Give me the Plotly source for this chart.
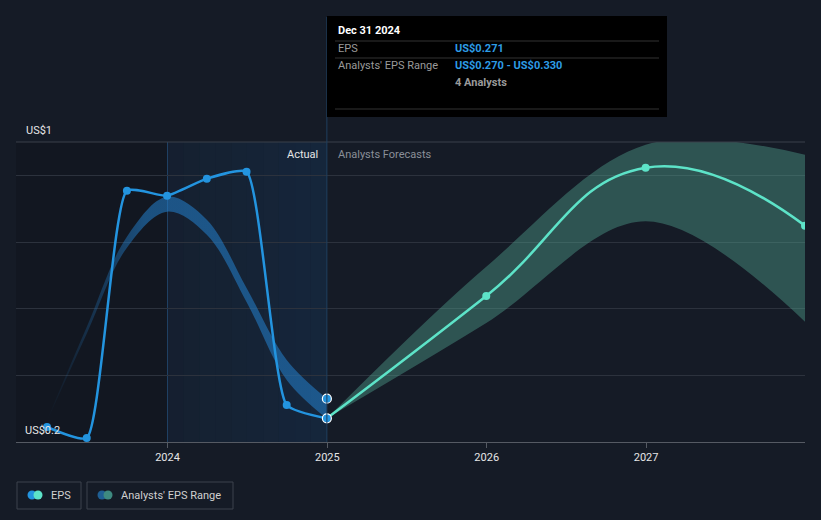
"""EPS history and analyst forecast chart (dark theme)."""

import datetime as dt

import plotly.graph_objects as go

# Reported EPS (trailing), quarterly
eps_dates = ["2023-03-31", "2023-06-30", "2023-09-30", "2023-12-31",
             "2024-03-31", "2024-06-30", "2024-09-30", "2024-12-31"]
eps_values = [0.245, 0.212, 0.954, 0.939, 0.990, 1.011, 0.311, 0.271]

# Past analyst EPS range, quarterly
past_range_dates = eps_dates
past_range_low = [0.262, 0.525, 0.783, 0.891, 0.822, 0.620, 0.386, 0.270]
past_range_high = [0.266, 0.545, 0.816, 0.936, 0.867, 0.662, 0.446, 0.330]

# Analyst forecasts
fc_dates = ["2024-12-31", "2025-12-31", "2026-12-31", "2027-12-31"]
fc_values = [0.271, 0.638, 1.023, 0.849]
fc_low = [0.271, 0.557, 0.862, 0.561]
fc_high = [0.271, 0.726, 1.092, 1.062]

x_start, x_end = "2023-01-19", "2027-12-31"
y_min, y_max = 0.2, 1.1
grid_vals = [0.2, 0.4, 0.6, 0.8, 1.0]
year_ticks = ["2024-01-01", "2025-01-01", "2026-01-01", "2027-01-01"]
year_labels = ["2024", "2025", "2026", "2027"]
today = "2024-12-31"

W, H = 821, 520
L, R, T, B = 16, 16, 142, 78

BG = "#151b26"
BLUE = "#2394df"
TEAL = "#5de3c8"
FONT = "Roboto, Arial, sans-serif"


def px(x):
    return (x - L) / (W - L - R)


def py(y):
    return (H - B - y) / (H - T - B)


fig = go.Figure()

# Past analyst range band (fades in from the left)
fig.add_trace(go.Scatter(
    x=past_range_dates, y=past_range_low, mode="lines",
    line=dict(width=0, shape="spline", smoothing=1.0), hoverinfo="skip",
    showlegend=False,
))
fig.add_trace(go.Scatter(
    x=past_range_dates, y=past_range_high, mode="lines",
    line=dict(width=0, shape="spline", smoothing=1.0), fill="tonexty",
    fillcolor="rgba(35,128,205,0.55)",
    fillgradient=dict(type="horizontal", colorscale=[
        [0.0, "rgba(35,128,205,0.0)"],
        [0.35, "rgba(35,128,205,0.55)"],
        [1.0, "rgba(35,128,205,0.55)"],
    ]),
    hoverinfo="skip", showlegend=False,
))

# Forecast band
fig.add_trace(go.Scatter(
    x=fc_dates, y=fc_low, mode="lines",
    line=dict(width=0, shape="spline", smoothing=1.0), hoverinfo="skip",
    showlegend=False,
))
fig.add_trace(go.Scatter(
    x=fc_dates, y=fc_high, mode="lines",
    line=dict(width=0, shape="spline", smoothing=1.0), fill="tonexty",
    fillcolor="rgba(84,169,150,0.40)", hoverinfo="skip", showlegend=False,
))

# Forecast line
fig.add_trace(go.Scatter(
    x=fc_dates, y=fc_values, mode="lines+markers",
    line=dict(color=TEAL, width=2.5, shape="spline", smoothing=1.3),
    marker=dict(color=TEAL, size=8), showlegend=False,
))

# Actual EPS line
fig.add_trace(go.Scatter(
    x=eps_dates, y=eps_values, mode="lines+markers",
    line=dict(color=BLUE, width=2.5, shape="spline", smoothing=0.5),
    marker=dict(color=BLUE, size=8), showlegend=False,
))

# Highlighted points at the cursor date
fig.add_trace(go.Scatter(
    x=[today, today], y=[eps_values[-1], past_range_high[-1]], mode="markers",
    marker=dict(color=BLUE, size=9, line=dict(color="white", width=1.2)),
    showlegend=False,
))

shapes = []
# Darker region before last year
shapes.append(dict(type="rect", xref="x", yref="paper", x0=x_start, x1="2024-01-01",
                   y0=0, y1=1, fillcolor="rgba(0,0,0,0.12)", line_width=0, layer="below"))
# Past-year highlight (gradient made from slices)
n = 10
d0 = dt.date(2024, 1, 1)
d1 = dt.date(2024, 12, 31)
span = (d1 - d0).days
for i in range(n):
    a = d0 + dt.timedelta(days=span * i / n)
    b = d0 + dt.timedelta(days=span * (i + 1) / n)
    shapes.append(dict(type="rect", xref="x", yref="paper", x0=str(a), x1=str(b),
                       y0=0, y1=1, fillcolor=f"rgba(25,95,165,{0.08 + 0.10 * i / n:.3f})",
                       line_width=0, layer="below"))
shapes.append(dict(type="line", xref="x", yref="paper", x0="2024-01-01", x1="2024-01-01",
                   y0=0, y1=1, line=dict(color="rgba(40,90,140,0.6)", width=1), layer="below"))
# Top border line
shapes.append(dict(type="line", xref="paper", yref="paper", x0=0, x1=1, y0=1, y1=1,
                   line=dict(color="#3a404b", width=1)))
# Cursor line
shapes.append(dict(type="line", xref="x", yref="paper", x0=today, x1=today,
                   y0=0, y1=py(17), line=dict(color="#1f3f5f", width=1)))
# Tooltip box
shapes.append(dict(type="rect", xref="paper", yref="paper", x0=px(327), x1=px(667),
                   y0=py(117), y1=py(16), fillcolor="#000000", line_width=0))
for yy in (41, 58, 109):
    shapes.append(dict(type="line", xref="paper", yref="paper", x0=px(335), x1=px(659),
                       y0=py(yy), y1=py(yy), line=dict(color="#333333", width=1)))

# Legend boxes
for x0, x1 in ((17, 81), (87, 233)):
    shapes.append(dict(type="rect", xref="paper", yref="paper", x0=px(x0), x1=px(x1),
                       y0=py(509), y1=py(482), line=dict(color="#3d434d", width=1),
                       fillcolor="rgba(0,0,0,0)"))
for cx, col in ((32, BLUE), (38, TEAL), (102, "#1f5f94"), (108, "#3e8a80")):
    shapes.append(dict(type="circle", xref="paper", yref="paper",
                       x0=px(cx - 4.5), x1=px(cx + 4.5), y0=py(495 + 4.5), y1=py(495 - 4.5),
                       fillcolor=col, line_width=0))

ann = []


def text(x, y, s, color="#ffffff", size=11, anchor="left", bold=False):
    ann.append(dict(xref="paper", yref="paper", x=px(x), y=py(y), text=f"<b>{s}</b>" if bold else s,
                    showarrow=False, xanchor=anchor, yanchor="middle",
                    font=dict(color=color, size=size, family=FONT)))


text(24, 130, "US$1", "#e6e6e6")
text(23, 430, "US$0.2", "#e6e6e6")
text(320, 154, "Actual", "#e6e6e6", anchor="right")
text(336, 154, "Analysts Forecasts", "#8a8f98")
text(336, 31, "Dec 31 2024", "#ffffff", bold=True)
text(336, 49, "EPS", "#9a9a9a")
text(453, 49, "US$0.271", "#2d9ce6", bold=True)
text(336, 66, "Analysts' EPS Range", "#9a9a9a")
text(453, 66, "US$0.270 - US$0.330", "#2d9ce6", bold=True)
text(453, 83, "4 Analysts", "#9a9a9a", bold=True)
text(49, 495, "EPS", "#d0d0d0")
text(119, 495, "Analysts' EPS Range", "#d0d0d0")

fig.update_layout(
    width=W, height=H,
    margin=dict(l=L, r=R, t=T, b=B),
    paper_bgcolor=BG, plot_bgcolor=BG,
    font=dict(family=FONT, color="#e6e6e6", size=11),
    hovermode=False,
    shapes=shapes,
    annotations=ann,
    xaxis=dict(
        type="date", range=[x_start, x_end],
        tickvals=year_ticks, ticktext=year_labels,
        showgrid=False, zeroline=False,
        showline=True, linecolor="#555a63", linewidth=1,
        ticks="outside", ticklen=5, tickcolor="#555a63",
        tickfont=dict(color="#e6e6e6", size=11),
    ),
    yaxis=dict(
        range=[y_min, y_max], tickvals=grid_vals, showticklabels=False,
        showgrid=True, gridcolor="#2c323d", gridwidth=1, zeroline=False,
    ),
)

fig.write_html(
    "out.html",
    config={"displayModeBar": False},
    post_script="document.body.style.margin='0';document.body.style.background='" + BG + "';",
)
